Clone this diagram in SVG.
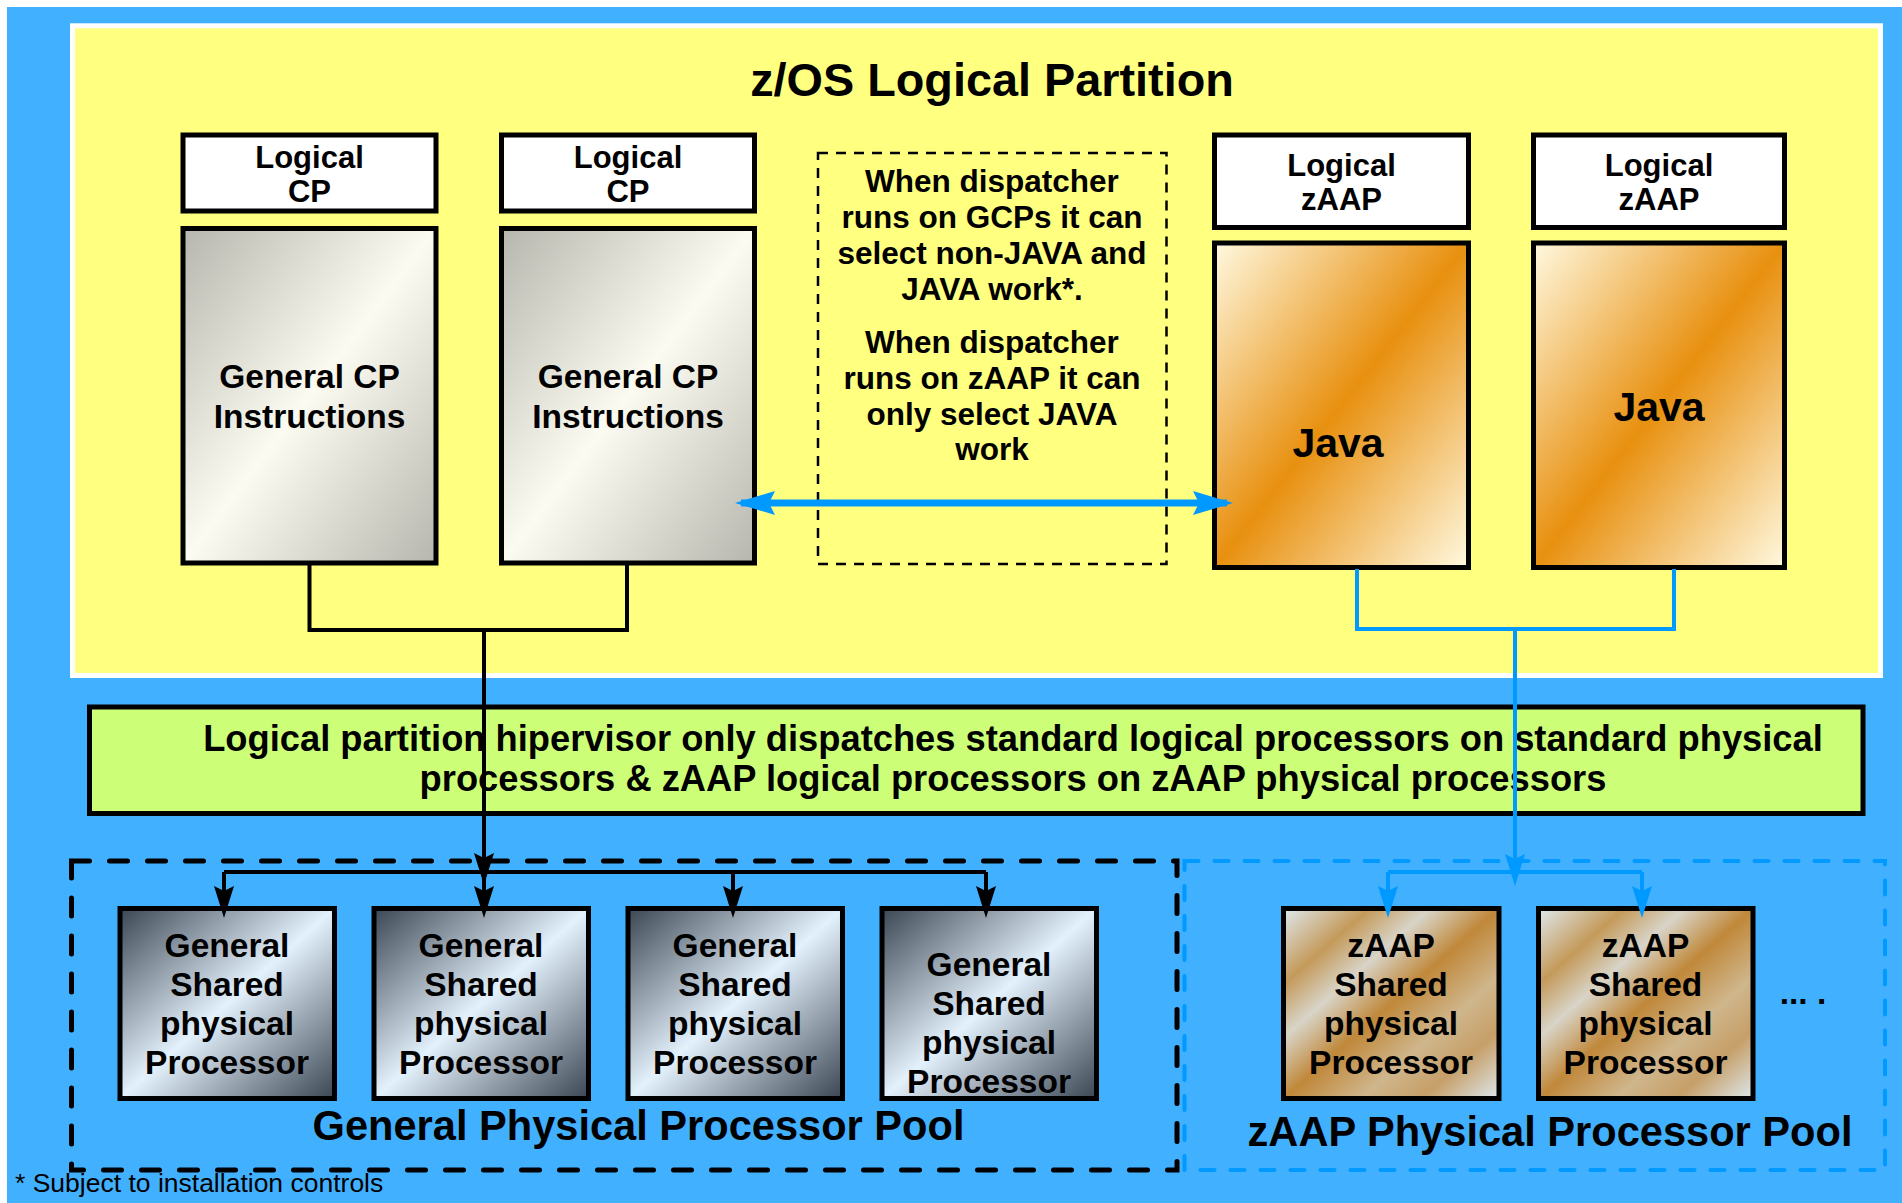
<svg xmlns="http://www.w3.org/2000/svg" width="1902" height="1203" viewBox="0 0 1902 1203">
<style>
text{font-family:"Liberation Sans",Arial,sans-serif;font-weight:bold;fill:#000;text-anchor:middle}
.box{stroke:#000;stroke-width:5}
.lbl{fill:#fff}
.t31{font-size:31px}
.t33{font-size:33.5px}
.t30{font-size:31.5px}
.t36{font-size:36.3px}
.t41{font-size:41.6px}
.blk{fill:none;stroke:#000;stroke-width:4}
.blu{fill:none;stroke:#0099ff;stroke-width:4}
</style>
<defs>
<linearGradient id="gGcp" x1="0" y1="0" x2="1" y2="1">
<stop offset="0" stop-color="#b6b6ae"/><stop offset="0.5" stop-color="#fbfbf1"/><stop offset="1" stop-color="#b6b6ae"/>
</linearGradient>
<linearGradient id="gJava" x1="0" y1="0" x2="1" y2="1">
<stop offset="0" stop-color="#fff9e0"/><stop offset="0.5" stop-color="#e8900f"/><stop offset="1" stop-color="#fff9e0"/>
</linearGradient>
<linearGradient id="gGpp" x1="0" y1="0" x2="1" y2="1">
<stop offset="0" stop-color="#3b4653"/><stop offset="0.5" stop-color="#e3f1fc"/><stop offset="1" stop-color="#3b4653"/>
</linearGradient>
<linearGradient id="gZpp" x1="0" y1="0" x2="1" y2="1">
<stop offset="0" stop-color="#dfe9ef"/><stop offset="0.2" stop-color="#c49a5a"/><stop offset="0.34" stop-color="#d8d4c8"/><stop offset="0.5" stop-color="#c0883a"/><stop offset="0.68" stop-color="#cfb68c"/><stop offset="0.82" stop-color="#c69f68"/><stop offset="1" stop-color="#dde8ee"/>
</linearGradient>
<marker id="aBlk" viewBox="0 0 32 20" markerUnits="userSpaceOnUse" markerWidth="32" markerHeight="20" refX="26" refY="10" orient="auto">
<path d="M0,0 L32,10 L0,20 L5,10 z" fill="#000"/>
</marker>
<marker id="aBlu" viewBox="0 0 32 20" markerUnits="userSpaceOnUse" markerWidth="32" markerHeight="20" refX="26" refY="10" orient="auto">
<path d="M0,0 L32,10 L0,20 L5,10 z" fill="#0099ff"/>
</marker>
<marker id="aBig" viewBox="0 0 40 24" markerUnits="userSpaceOnUse" markerWidth="40" markerHeight="24" refX="34" refY="12" orient="auto-start-reverse">
<path d="M0,0 L40,12 L0,24 L6,12 z" fill="#0099ff"/>
</marker>
</defs>

<rect x="0" y="0" width="1902" height="1203" fill="#ffffff"/>
<rect x="7" y="7" width="1895" height="1196" fill="#40b0ff"/>

<g id="lpar">
<rect x="72.5" y="25.8" width="1808" height="649.7" fill="#ffff80" stroke="#ffffff" stroke-width="5"/>
<text x="992" y="96" style="font-size:46.8px">z/OS Logical Partition</text>
</g>

<g id="logical-cp-1">
<rect class="box lbl" x="183" y="135" width="253" height="76"/>
<text class="t31" x="309.5" y="168">Logical</text>
<text class="t31" x="309.5" y="202">CP</text>
</g>
<g id="general-cp-1">
<rect class="box" x="183" y="228.5" width="253" height="334.5" fill="url(#gGcp)"/>
<text class="t33" x="309.5" y="388">General CP</text>
<text class="t33" x="309.5" y="428">Instructions</text>
</g>
<g id="logical-cp-2">
<rect class="box lbl" x="501.5" y="135" width="253" height="76"/>
<text class="t31" x="628" y="168">Logical</text>
<text class="t31" x="628" y="202">CP</text>
</g>
<g id="general-cp-2">
<rect class="box" x="501.5" y="228.5" width="253" height="334.5" fill="url(#gGcp)"/>
<text class="t33" x="628" y="388">General CP</text>
<text class="t33" x="628" y="428">Instructions</text>
</g>

<g id="dispatcher-note">
<rect x="818" y="153" width="348.5" height="411" fill="none" stroke="#000" stroke-width="2.5" stroke-dasharray="10 8"/>
<text class="t30" x="992" y="192">When dispatcher</text>
<text class="t30" x="992" y="228">runs on GCPs it can</text>
<text class="t30" x="992" y="263.5">select non-JAVA and</text>
<text class="t30" x="992" y="299.5">JAVA work*.</text>
<text class="t30" x="992" y="353">When dispatcher</text>
<text class="t30" x="992" y="389">runs on zAAP it can</text>
<text class="t30" x="992" y="425">only select JAVA</text>
<text class="t30" x="992" y="460">work</text>
</g>

<g id="logical-zaap-1">
<rect class="box lbl" x="1214.5" y="135" width="254" height="92.5"/>
<text class="t31" x="1341.5" y="176">Logical</text>
<text class="t31" x="1341.5" y="209.5">zAAP</text>
</g>
<g id="java-1">
<rect class="box" x="1214.5" y="243" width="254" height="324.5" fill="url(#gJava)"/>
<text class="t41" x="1338" y="457" style="font-size:41px">Java</text>
</g>
<g id="logical-zaap-2">
<rect class="box lbl" x="1533.5" y="135" width="251" height="92.5"/>
<text class="t31" x="1659" y="176">Logical</text>
<text class="t31" x="1659" y="209.5">zAAP</text>
</g>
<g id="java-2">
<rect class="box" x="1533.5" y="243" width="251" height="324.5" fill="url(#gJava)"/>
<text class="t41" x="1659" y="421" style="font-size:41px">Java</text>
</g>

<g id="hipervisor">
<rect class="box" x="89.5" y="707" width="1773.5" height="106.5" fill="#ccff77"/>
<text class="t36" x="1013" y="751">Logical partition hipervisor only dispatches standard logical processors on standard physical</text>
<text class="t36" x="1013" y="791">processors &amp; zAAP logical processors on zAAP physical processors</text>
</g>

<g id="general-pool">
<rect x="71.5" y="861" width="1105.5" height="309" fill="none" stroke="#000" stroke-width="5" stroke-dasharray="18 20" stroke-linecap="round"/>
<text class="t41" x="638.5" y="1140">General Physical Processor Pool</text>
</g>
<g id="zaap-pool">
<rect x="1184.5" y="861" width="700.5" height="309" fill="none" stroke="#0099ff" stroke-width="4" stroke-dasharray="14 16" stroke-linecap="round"/>
<text class="t41" x="1550" y="1146">zAAP Physical Processor Pool</text>
</g>

<g id="gpp-1">
<rect class="box" x="120" y="908.5" width="214.5" height="190" fill="url(#gGpp)"/>
<text class="t33" x="227" y="957">General</text>
<text class="t33" x="227" y="996">Shared</text>
<text class="t33" x="227" y="1035">physical</text>
<text class="t33" x="227" y="1074">Processor</text>
</g>
<g id="gpp-2">
<rect class="box" x="374" y="908.5" width="214.5" height="190" fill="url(#gGpp)"/>
<text class="t33" x="481" y="957">General</text>
<text class="t33" x="481" y="996">Shared</text>
<text class="t33" x="481" y="1035">physical</text>
<text class="t33" x="481" y="1074">Processor</text>
</g>
<g id="gpp-3">
<rect class="box" x="628" y="908.5" width="214.5" height="190" fill="url(#gGpp)"/>
<text class="t33" x="735" y="957">General</text>
<text class="t33" x="735" y="996">Shared</text>
<text class="t33" x="735" y="1035">physical</text>
<text class="t33" x="735" y="1074">Processor</text>
</g>
<g id="gpp-4">
<rect class="box" x="882" y="908.5" width="214.5" height="190" fill="url(#gGpp)"/>
<text class="t33" x="989" y="976">General</text>
<text class="t33" x="989" y="1015">Shared</text>
<text class="t33" x="989" y="1054">physical</text>
<text class="t33" x="989" y="1093">Processor</text>
</g>
<g id="zpp-1">
<rect class="box" x="1283.5" y="908.5" width="215.5" height="190" fill="url(#gZpp)"/>
<text class="t33" x="1391" y="957">zAAP</text>
<text class="t33" x="1391" y="996">Shared</text>
<text class="t33" x="1391" y="1035">physical</text>
<text class="t33" x="1391" y="1074">Processor</text>
</g>
<g id="zpp-2">
<rect class="box" x="1538.5" y="908.5" width="214.5" height="190" fill="url(#gZpp)"/>
<text class="t33" x="1645.5" y="957">zAAP</text>
<text class="t33" x="1645.5" y="996">Shared</text>
<text class="t33" x="1645.5" y="1035">physical</text>
<text class="t33" x="1645.5" y="1074">Processor</text>
</g>
<g id="more">
<text class="t33" x="1803" y="1004">... .</text>
</g>

<g id="connectors">
<path class="blk" d="M309.5,565 V630 H627 V565"/>
<path class="blk" d="M484,630 V879" marker-end="url(#aBlk)"/>
<path class="blk" d="M224,872 H986"/>
<path class="blk" d="M224,872 V912" marker-end="url(#aBlk)"/>
<path class="blk" d="M484,872 V912" marker-end="url(#aBlk)"/>
<path class="blk" d="M733,872 V912" marker-end="url(#aBlk)"/>
<path class="blk" d="M986,872 V912" marker-end="url(#aBlk)"/>
<path class="blu" d="M1357,569 V629 H1674 V569"/>
<path class="blu" d="M1515,629 V880" marker-end="url(#aBlu)"/>
<path class="blu" d="M1388,872 H1642"/>
<path class="blu" d="M1388,872 V912" marker-end="url(#aBlu)"/>
<path class="blu" d="M1642,872 V912" marker-end="url(#aBlu)"/>
<path d="M741,503 H1227" fill="none" stroke="#0099ff" stroke-width="7" marker-start="url(#aBig)" marker-end="url(#aBig)"/>
</g>

<text x="15" y="1192" style="font-size:26.5px;font-weight:normal;text-anchor:start">* Subject to installation controls</text>
</svg>
